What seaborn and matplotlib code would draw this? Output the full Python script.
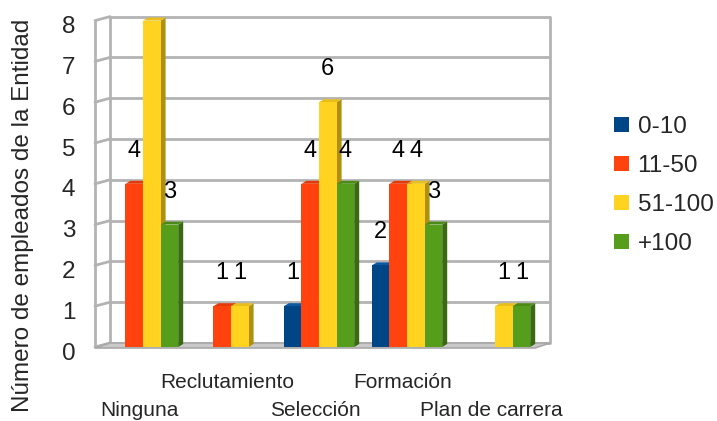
import matplotlib
matplotlib.use("Agg")
import matplotlib.pyplot as plt
import numpy as np
import pandas as pd
import seaborn as sns
from matplotlib.patches import Polygon, Patch
from matplotlib.transforms import ScaledTranslation

# ---- data -------------------------------------------------------------
categories = ["Ninguna", "Reclutamiento", "Selección", "Formación", "Plan de carrera"]
series = ["0-10", "11-50", "51-100", "+100"]
v_0_10 = [0, 0, 1, 2, 0]
v_11_50 = [4, 1, 4, 4, 0]
v_51_100 = [8, 1, 6, 4, 1]
v_mas_100 = [3, 0, 4, 3, 1]
y_ticks = [0, 1, 2, 3, 4, 5, 6, 7, 8]
y_title = "Número de empleados de la Entidad"

colors = ["#004586", "#ff420e", "#ffd320", "#579d1c"]
side_colors = ["#002a52", "#b32c08", "#b08f12", "#3a6b10"]
top_colors = ["#0b5aa3", "#e23a0b", "#e8bf1a", "#4c8a18"]

values = {s: v for s, v in zip(series, [v_0_10, v_11_50, v_51_100, v_mas_100])}
df = pd.DataFrame(
    [(c, s, values[s][i]) for s in series for i, c in enumerate(categories)],
    columns=["categoria", "rango", "valor"],
)

sns.set_style("white")
plt.rcParams["font.family"] = ["Liberation Sans", "DejaVu Sans"]

W, H = 717, 421
fig = plt.figure(figsize=(W / 100, H / 100), dpi=100)

# axes placed in pixel terms: x from 99 to 539, y value 0 at 347 and 8 at ~20
ax_l, ax_r = 99, 539
y_zero, y_top = 347, 20.6
ax = fig.add_axes([ax_l / W, 1 - y_zero / H, (ax_r - ax_l) / W, (y_zero - y_top) / H])

sns.barplot(
    data=df, x="categoria", y="valor", hue="rango",
    order=categories, hue_order=series, palette=colors,
    width=0.8, saturation=1, ax=ax, legend=False, linewidth=0,
)
ax.set_xlim(-0.5, len(categories) - 0.5)
ax.set_ylim(0, 8)
ax.patch.set_visible(False)
for sp in ax.spines.values():
    sp.set_visible(False)
ax.set_xlabel("")
ax.set_ylabel("")

# pixel -> data conversion
px_x = (len(categories)) / (ax_r - ax_l)
px_y = 8 / (y_zero - y_top)

grid_c = "#b3b3b3"
grid_lw = 2.0
back_dx, back_dy = 11 * px_x, 4 * px_y
front_dx = -4 * px_x
x_left, x_right = -0.5, len(categories) - 0.5

# back wall grid
for v in y_ticks:
    ax.plot([x_left + back_dx, x_right + back_dx], [v + back_dy, v + back_dy],
            color=grid_c, lw=grid_lw, clip_on=False, zorder=0.5, solid_capstyle="butt")
    # left wall
    ax.plot([x_left + front_dx, x_left + back_dx], [v, v + back_dy],
            color=grid_c, lw=grid_lw, clip_on=False, zorder=0.5)
for xx in (x_left + back_dx, x_right + back_dx):
    ax.plot([xx, xx], [back_dy, 8 + back_dy], color=grid_c, lw=grid_lw,
            clip_on=False, zorder=0.5)
ax.plot([x_left + front_dx, x_left + front_dx], [0, 8], color=grid_c, lw=grid_lw,
        clip_on=False, zorder=0.5)

# floor
floor = Polygon(
    [(x_left + front_dx, -1 * px_y), (x_right + front_dx, -1 * px_y),
     (x_right + back_dx, back_dy), (x_left + back_dx, back_dy)],
    closed=True, facecolor="#c9c9c9", edgecolor="#a8a8a8", lw=1.2,
    clip_on=False, zorder=0.8,
)
ax.add_patch(floor)

# 3D sides and tops of bars
bars = [p for p in ax.patches if p is not floor]
bars_sorted = sorted(bars, key=lambda p: p.get_x())
sdx, sdy = 5 * px_x, 3 * px_y
rgba_list = [tuple(np.round(matplotlib.colors.to_rgba(c), 3)) for c in colors]
for k, p in enumerate(bars_sorted):
    h = p.get_height()
    base_z = 3 + 0.01 * k
    p.set_zorder(base_z)
    if h <= 0:
        continue
    idx = rgba_list.index(tuple(np.round(p.get_facecolor(), 3)))
    x0, w = p.get_x(), p.get_width()
    side = Polygon([(x0 + w, 0), (x0 + w + sdx, sdy), (x0 + w + sdx, h + sdy), (x0 + w, h)],
                   closed=True, facecolor=side_colors[idx], edgecolor="none",
                   zorder=base_z - 0.005, clip_on=False)
    top = Polygon([(x0, h), (x0 + sdx, h + sdy), (x0 + w + sdx, h + sdy), (x0 + w, h)],
                  closed=True, facecolor=top_colors[idx], edgecolor="none",
                  zorder=base_z - 0.004, clip_on=False)
    ax.add_patch(side)
    ax.add_patch(top)

# value labels (a label that would land above the figure is left out)
label_off = 33
for j, s in enumerate(series):
    for i, c in enumerate(categories):
        v = values[s][i]
        if v <= 0:
            continue
        if y_zero - v / px_y - label_off - 12 < 0:
            continue
        cx = i - 0.4 + 0.2 * j + 0.1
        ax.annotate(str(v), (cx, v), xytext=(0, label_off), textcoords="offset pixels",
                    ha="center", va="center", fontsize=17, color="black",
                    zorder=10, annotation_clip=False)

# y ticks
ax.set_yticks(y_ticks)
ax.set_yticklabels([str(t) for t in y_ticks], fontsize=17.5)
ax.tick_params(axis="y", length=0, pad=17)
for lab in ax.get_yticklabels():
    lab.set_transform(lab.get_transform() + ScaledTranslation(0, -4 / 100, fig.dpi_scale_trans))

# x ticks, staggered
ax.set_xticks(range(len(categories)))
ax.set_xticklabels(categories, fontsize=15)
ax.tick_params(axis="x", length=0, pad=39)
for i, tick in enumerate(ax.xaxis.get_major_ticks()):
    if i % 2 == 1:
        tick.set_pad(19)
for lab in ax.get_xticklabels():
    lab.set_transform(lab.get_transform() + ScaledTranslation(-4 / 100, 0, fig.dpi_scale_trans))

fig.text(23 / W, 1 - 215 / H, y_title, rotation=90, fontsize=17.5,
         ha="center", va="center")

handles = [Patch(facecolor=c, edgecolor="none") for c in colors]
fig.legend(handles, series, loc="upper left",
           bbox_to_anchor=(614 / W, 1 - 116 / H), frameon=False, fontsize=17.5,
           handlelength=0.62, handleheight=0.62, handletextpad=0.35,
           labelspacing=0.7, borderpad=0, borderaxespad=0)

fig.savefig("out.png", dpi=100)
